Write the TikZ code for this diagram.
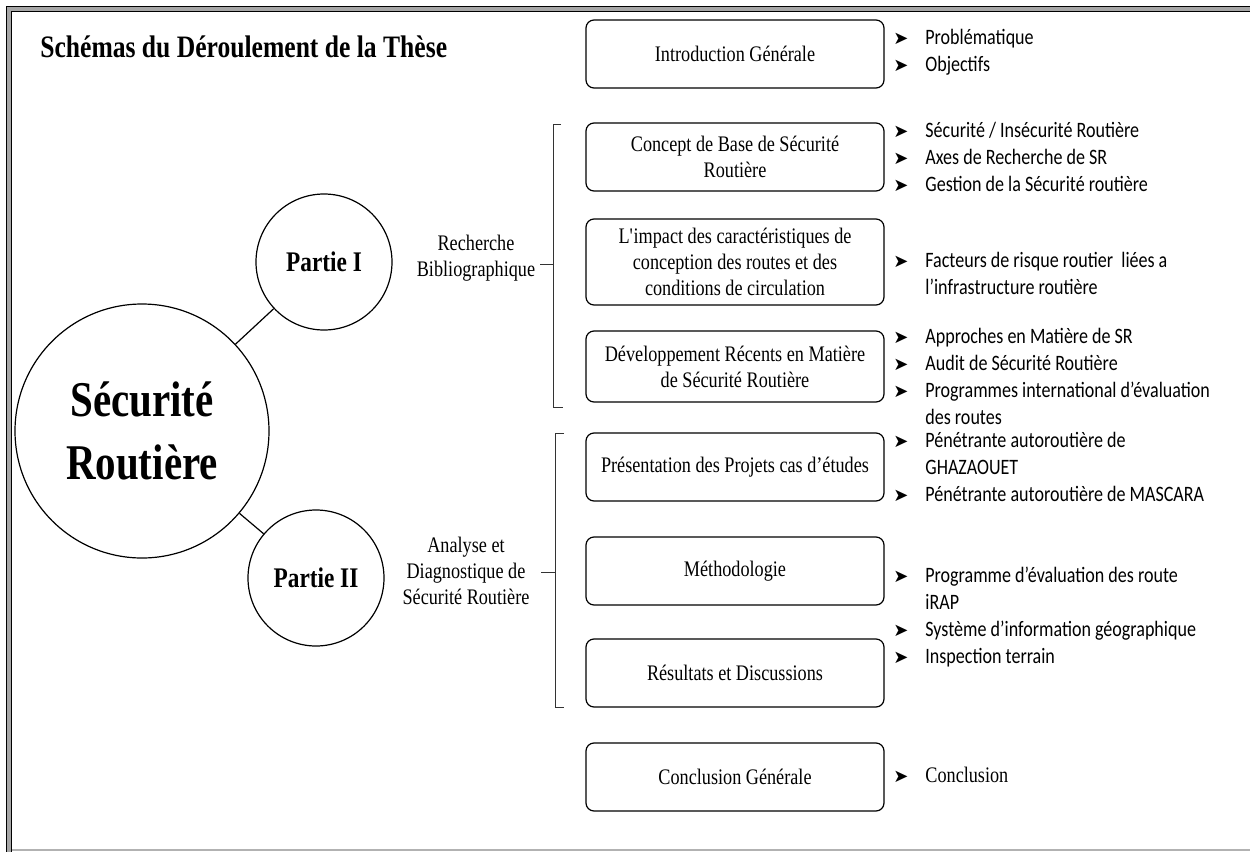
\documentclass[tikz,border=0pt]{standalone}
\usepackage{fontspec}
\setmainfont{Liberation Serif}[FakeStretch=0.82]
\newfontfamily\calibri{Carlito}[FakeStretch=0.82]
\newfontfamily\dingfont{DejaVu Sans}
\newcommand{\puce}{\makebox[16pt][l]{\dingfont\fontsize{9}{9}\selectfont ➤}}
\newcommand{\suite}{\hspace*{16pt}}

\begin{document}
\begin{tikzpicture}[x=0.5pt,y=-0.5pt,
   cadre/.style={draw,line width=0.6pt,rounded corners=4pt,minimum width=149pt,
     minimum height=34pt,align=center,inner sep=2pt,font=\fontsize{11.1}{13}\selectfont},
   partie/.style={draw,circle,line width=0.6pt,minimum size=68pt,inner sep=0pt,
     font=\bfseries\fontsize{14.2}{16}\selectfont},
   liste/.style={anchor=west,align=left,inner sep=0pt,font=\calibri\fontsize{11}{13.5}\selectfont},
   etiq/.style={align=center,inner sep=0pt,font=\fontsize{11.1}{13}\selectfont},
   crochet/.style={line width=0.5pt,black!80}]

   \useasboundingbox (0,0) rectangle (1250,852);
   % cadre de la page
   \draw[line width=0.5pt,double=gray!70,double distance=2pt] (9,852) -- (9,9) -- (1250,9);
   \draw[gray!60,line width=1pt] (12,850) -- (1250,850);

   \node[anchor=west,inner sep=0pt,font=\bfseries\fontsize{15.6}{18}\selectfont] (titre) at (40,47)
     {Schémas du Déroulement de la Thèse};

   % les parties
   \node[draw,circle,line width=0.6pt,minimum size=127pt,inner sep=0pt,align=center,
     font=\bfseries\fontsize{25}{31.5}\selectfont] (sr) at (142,431) {Sécurité\\Routière};
   \node[partie] (p1) at (324,262) {Partie I};
   \node[partie] (p2) at (316,578) {Partie II};
   \foreach \p in {p1,p2}
    \draw[line width=0.6pt] (sr) -- (\p);

   \node[etiq] (rb) at (476,258) {Recherche\\Bibliographique};
   \node[etiq] (ad) at (466,571) {Analyse et\\Diagnostique de\\Sécurité Routière};

   % accolades
   \draw[crochet] (561,124) -- (553,124) -- (553,407) -- (563,407);
   \draw[crochet] (540,264) -- (553,264);
   \draw[crochet] (564,433) -- (555,433) -- (555,707) -- (564,707);
   \draw[crochet] (541,572) -- (555,572);

   % chapitres
   \node[cadre] (intro) at (735,54) {Introduction Générale};
   \node[cadre] (concept) at (735,157) {Concept de Base de Sécurité\\Routière};
   \node[cadre,minimum height=43pt] (impact) at (735,262)
     {L\textquotesingle impact des caractéristiques de\\conception des routes et des\\conditions de circulation};
   \node[cadre,minimum height=35.5pt] (dev) at (735,366.5)
     {Développement Récents en Matière\\de Sécurité Routière};
   \node[cadre] (pres) at (735,467) {Présentation des Projets cas d’études};
   \node[cadre] (metho) at (735,571) {Méthodologie};
   \node[cadre] (res) at (735,673) {Résultats et Discussions};
   \node[cadre] (concl) at (735,777) {Conclusion Générale};

   % contenus
   \node[liste] (lintro) at (893,52.5) {\puce Problématique\\\puce Objectifs};
   \node[liste] (lconcept) at (893,157)
     {\puce Sécurité / Insécurité Routière\\\puce Axes de Recherche de SR\\\puce Gestion de la Sécurité routière};
   \node[liste] (limpact) at (893,273.5)
     {\puce Facteurs de risque routier\ \ liées a\\\suite l’infrastructure routière};
   \node[liste] (ldev) at (893,376)
     {\puce Approches en Matière de SR\\\puce Audit de Sécurité Routière\\\puce Programmes international d’évaluation\\\suite des routes};
   \node[liste] (lpres) at (893,466.5)
     {\puce Pénétrante autoroutière de\\\suite GHAZAOUET\\\puce Pénétrante autoroutière de MASCARA};
   \node[liste] (lmetho) at (893,617)
     {\puce Programme d’évaluation des route\\\suite iRAP\\\puce Système d’information géographique\\\puce Inspection terrain};
   \node[liste,font=\fontsize{11.1}{13}\selectfont] (lconcl) at (893,775) {\puce Conclusion};
\end{tikzpicture}
\end{document}
